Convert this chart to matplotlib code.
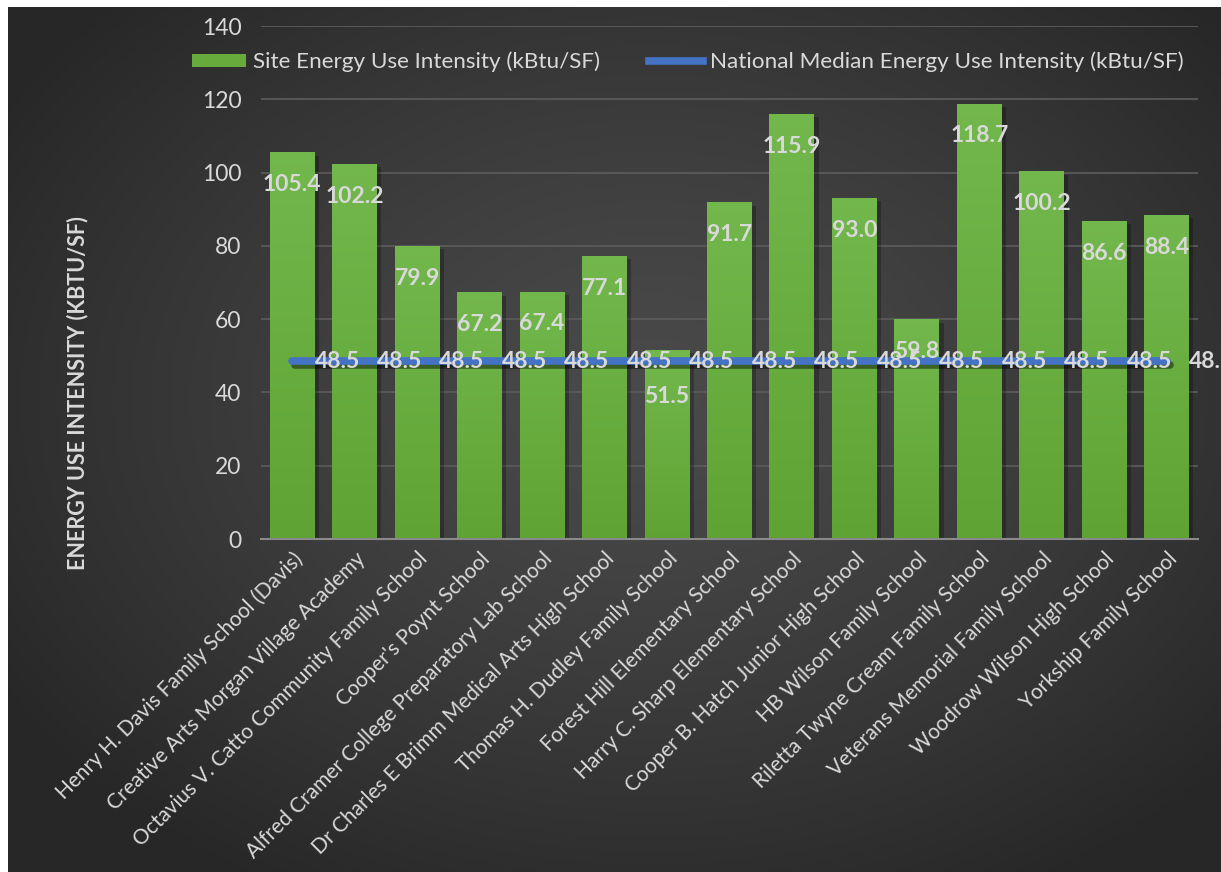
import numpy as np
import matplotlib
matplotlib.use('Agg')
import matplotlib.pyplot as plt
import matplotlib.patheffects as pe
from matplotlib.patches import Rectangle
from matplotlib.lines import Line2D
from matplotlib.patches import Patch

# schools (x categories)
SCHOOLS = [
    'Henry H. Davis Family School (Davis)',
    'Creative Arts Morgan Village Academy',
    'Octavius V. Catto Community Family School',
    "Cooper's Poynt School",
    'Alfred Cramer College Preparatory Lab School',
    'Dr Charles E Brimm Medical Arts High School',
    'Thomas H. Dudley Family School',
    'Forest Hill Elementary School',
    'Harry C. Sharp Elementary School',
    'Cooper B. Hatch Junior High School',
    'HB Wilson Family School',
    'Riletta Twyne Cream Family School',
    'Veterans Memorial Family School',
    'Woodrow Wilson High School',
    'Yorkship Family School',
]

# site energy use intensity (kBtu/SF)
SITE_EUI = [105.4, 102.2, 79.9, 67.2, 67.4, 77.1, 51.5, 91.7,
            115.9, 93.0, 59.8, 118.7, 100.2, 86.6, 88.4]

# national median energy use intensity (kBtu/SF)
MEDIAN_EUI = [48.5] * len(SCHOOLS)

Y_TICKS = [0, 20, 40, 60, 80, 100, 120, 140]

TEXT_COLOR = '#d9d9d9'
plt.rcParams['font.family'] = ['Lato', 'DejaVu Sans']

W, H = 1221, 872
fig = plt.figure(figsize=(W / 100, H / 100), dpi=100)

# dark radial background, like the office chart style
bg = fig.add_axes([0, 0, 1, 1], zorder=-10)
yy, xx = np.mgrid[0:H, 0:W]
r = np.sqrt(((xx - 650) / 760.0) ** 2 + ((yy - 400) / 560.0) ** 2)
r = np.clip(r, 0, 1)
shade = 0.29 - (0.29 - 0.155) * r ** 1.3
bg.imshow(np.dstack([shade, shade, shade]), extent=(0, W, H, 0), aspect='auto')
bg.set_xlim(0, W)
bg.set_ylim(H, 0)
bg.axis('off')
# white strips left and top
fig.patches.append(Rectangle((0, 0), 8 / W, 1, transform=fig.transFigure,
                             facecolor='white', edgecolor='none', zorder=5))
fig.patches.append(Rectangle((0, 1 - 7 / H), 1, 7 / H, transform=fig.transFigure,
                             facecolor='white', edgecolor='none', zorder=5))

ax = fig.add_axes([261 / W, 1 - 539 / H, (1198 - 261) / W, (539 - 26) / H])
ax.set_facecolor('none')

x = np.arange(len(SCHOOLS))
bar_w = 0.72
bars = ax.bar(x, SITE_EUI, width=bar_w, color='#66ab3c', zorder=2)
for b in bars:
    b.set_path_effects([pe.SimplePatchShadow(offset=(3, -2), shadow_rgbFace='black', alpha=0.25),
                        pe.Normal()])
    # vertical gradient on each bar
    grad = np.linspace(0, 1, 64).reshape(-1, 1)
    top = np.array([0.45, 0.72, 0.30])
    bot = np.array([0.37, 0.64, 0.20])
    img = bot + (top - bot) * grad[..., None]
    ax.imshow(img, extent=(b.get_x(), b.get_x() + b.get_width(), 0, b.get_height()),
              origin='lower', aspect='auto', zorder=2.5)

ax.plot(x, MEDIAN_EUI, color='#4472c4', lw=5.5, solid_capstyle='round', zorder=3,
        path_effects=[pe.SimpleLineShadow(offset=(2, -3), alpha=0.45), pe.Normal()])

# data labels
for xi, v in zip(x, SITE_EUI):
    dy = -23
    if abs(v - MEDIAN_EUI[xi]) < 8:
        dy = -33
    ax.annotate(f'{v:.1f}', (xi, v), xytext=(0, dy), textcoords='offset points',
                ha='center', va='center', color=TEXT_COLOR, fontsize=16.5,
                fontweight='bold', zorder=4)
for xi, v in zip(x, MEDIAN_EUI):
    ax.annotate(f'{v:.1f}', (xi, v), xytext=(16, 0), textcoords='offset points',
                ha='left', va='center', color=TEXT_COLOR, fontsize=16.5,
                fontweight='bold', zorder=4, annotation_clip=False)

ax.set_xlim(-0.5, len(SCHOOLS) - 0.5)
ax.set_ylim(0, 140)
ax.set_yticks(Y_TICKS)
ax.set_yticklabels([str(t) for t in Y_TICKS], fontsize=16.5, color=TEXT_COLOR)
ax.set_xticks(x)
ax.set_xticklabels(SCHOOLS, rotation=45, ha='right', va='top', rotation_mode='anchor',
                   fontsize=15, color=TEXT_COLOR)
ax.tick_params(axis='both', length=0)
ax.tick_params(axis='y', pad=14)
ax.tick_params(axis='x', pad=7)
ax.grid(axis='y', color='#5a5a5a', lw=1.3, zorder=0)
ax.set_axisbelow(True)
for s in ['top', 'right', 'left']:
    ax.spines[s].set_visible(False)
ax.spines['bottom'].set_color('#8a8a8a')
ax.spines['bottom'].set_linewidth(1.5)
ax.spines['bottom'].set_zorder(3)

fig.text(78 / W, 1 - 393 / H, 'ENERGY USE INTENSITY (KBTU/SF)', rotation=90,
         ha='center', va='center', color=TEXT_COLOR, fontsize=15.5, fontweight='bold')

handles = [Patch(facecolor='#66ab3c', edgecolor='none'),
           Line2D([0], [0], color='#4472c4', lw=5.5)]
ax.legend(handles, ['Site Energy Use Intensity (kBtu/SF)',
                    'National Median Energy Use Intensity (kBtu/SF)'],
          loc='center', bbox_to_anchor=(688 / W, 1 - 62 / H),
          bbox_transform=fig.transFigure, ncol=2, frameon=False,
          fontsize=16.2, labelcolor=TEXT_COLOR, handlelength=2.4, handleheight=0.55,
          handletextpad=0.3, columnspacing=2.2)

fig.savefig('out.png', dpi=100)
